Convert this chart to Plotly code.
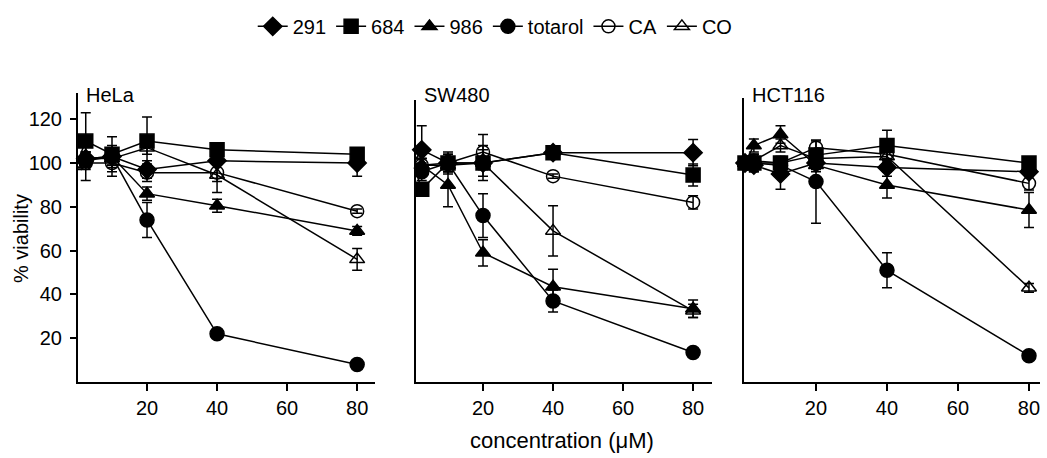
import plotly.graph_objects as go

# concentrations (uM)
conc = [0, 2.5, 10, 20, 40, 80]

series_names = ["291", "684", "986", "totarol", "CA", "CO"]
panels = ["HeLa", "SW480", "HCT116"]

# % viability
hela_291 = [100, 102, 103, 97, 101, 100]
hela_684 = [100, 110, 104, 110, 106, 104]
hela_986 = [100, 102, 103, 86, 80.5, 69]
hela_totarol = [100, 101, 103, 74, 22, 8]
hela_ca = [100, 100, 100, 95.6, 95.6, 78]
hela_co = [100, 102, 102, 107, 94.5, 56]

hela_291_err = [2, 3, 5, 4, 2, 6]
hela_684_err = [3, 13, 8, 11, 2, 2]
hela_986_err = [2, 3, 4, 3, 3, 2]
hela_totarol_err = [2, 3, 4, 8, 2, 1]
hela_ca_err = [2, 8, 6, 4, 4, 1]
hela_co_err = [2, 3, 3, 3, 8, 5]

sw480_291 = [100, 106, 100, 100, 104.7, 104.7]
sw480_684 = [100, 88, 100, 100, 104.7, 94.5]
sw480_986 = [100, 99, 90, 59, 43.5, 33.5]
sw480_totarol = [100, 96, 100, 76, 37, 13.5]
sw480_ca = [100, 99, 100, 105, 94, 82]
sw480_co = [100, 99, 99, 100, 69, 32.5]

sw480_291_err = [2, 11, 5, 6, 1, 6]
sw480_684_err = [2, 3, 4, 8, 1, 5]
sw480_986_err = [2, 3, 10, 6, 8, 4]
sw480_totarol_err = [2, 4, 4, 10, 5, 1]
sw480_ca_err = [2, 3, 3, 8, 1, 3]
sw480_co_err = [2, 3, 3, 3, 11.5, 3]

hct116_291 = [100, 99, 95, 100, 98, 96]
hct116_684 = [100, 100, 100, 103.6, 108, 100]
hct116_986 = [100, 108, 113, 99, 90, 78.5]
hct116_totarol = [100, 100, 99, 91.5, 51, 12]
hct116_ca = [100, 101, 100, 107, 104, 90.7]
hct116_co = [100, 101, 108, 102, 103, 43]

hct116_291_err = [2, 3, 7, 3, 4, 2]
hct116_684_err = [2, 4, 3, 3, 7, 2]
hct116_986_err = [2, 3, 4, 3, 6, 8]
hct116_totarol_err = [2, 3, 3, 19, 8, 1]
hct116_ca_err = [2, 3, 3, 3, 3, 3]
hct116_co_err = [2, 3, 3, 3, 3, 2]

x_ticks = [20, 40, 60, 80]
y_ticks = [20, 40, 60, 80, 100, 120]

data = {
    "HeLa": ([hela_291, hela_684, hela_986, hela_totarol, hela_ca, hela_co],
             [hela_291_err, hela_684_err, hela_986_err, hela_totarol_err, hela_ca_err, hela_co_err]),
    "SW480": ([sw480_291, sw480_684, sw480_986, sw480_totarol, sw480_ca, sw480_co],
              [sw480_291_err, sw480_684_err, sw480_986_err, sw480_totarol_err, sw480_ca_err, sw480_co_err]),
    "HCT116": ([hct116_291, hct116_684, hct116_986, hct116_totarol, hct116_ca, hct116_co],
               [hct116_291_err, hct116_684_err, hct116_986_err, hct116_totarol_err, hct116_ca_err, hct116_co_err]),
}

symbols = {"291": "diamond", "684": "square", "986": "triangle-up", "totarol": "circle",
           "CA": "circle-open", "CO": "triangle-up-open"}
sizes = {"291": 14, "684": 14, "986": 13, "totarol": 14, "CA": 13, "CO": 13}

W, H = 1047, 458
FONT = "Liberation Sans, Arial, Helvetica, sans-serif"

# pixel layout of each panel: (x-left, x-right, y-top) and x-range
panel_geom = {
    "HeLa": (78, 375, 93, [0.29, 85.1]),
    "SW480": (416, 712, 100, [0.86, 85.4]),
    "HCT116": (744, 1040, 98, [-0.28, 83.1]),
}
y_bottom_px = 382
px_per_unit = 2.19

fig = go.Figure()
draw_order = [5, 4, 3, 2, 0, 1]
for pi, panel in enumerate(panels):
    vals, errs = data[panel]
    ax = "" if pi == 0 else str(pi + 1)
    for si in draw_order:
        name = series_names[si]
        fig.add_trace(go.Scatter(
            x=conc, y=vals[si], name=name, mode="lines+markers",
            xaxis="x" + ax, yaxis="y" + ax,
            line=dict(color="black", width=1.5),
            marker=dict(symbol=symbols[name], size=sizes[name], color="black",
                        line=dict(color="black", width=1.5)),
            error_y=dict(type="data", array=errs[si], color="black", thickness=1.5, width=5),
            showlegend=(pi == 0), legendrank=si + 1, cliponaxis=False,
        ))

layout = dict(
    width=W, height=H, margin=dict(l=0, r=0, t=0, b=0),
    paper_bgcolor="white", plot_bgcolor="white",
    font=dict(family=FONT, size=20, color="black"),
    legend=dict(orientation="h", x=0.473, xanchor="center", y=0.985, yanchor="top",
                font=dict(size=20), traceorder="normal", itemwidth=30,
                bgcolor="rgba(0,0,0,0)"),
    annotations=[],
)
for pi, panel in enumerate(panels):
    xl, xr, yt, xr_range = panel_geom[panel]
    ax = "" if pi == 0 else str(pi + 1)
    y_dom = [(H - y_bottom_px) / H, (H - yt) / H]
    y_top_val = (y_bottom_px - yt) / px_per_unit
    layout["xaxis" + ax] = dict(
        domain=[xl / W, xr / W], range=xr_range, anchor="y" + ax,
        showline=True, linecolor="black", linewidth=2, showgrid=False, zeroline=False,
        tickmode="array", tickvals=x_ticks, ticks="outside", ticklen=7, tickwidth=2,
        tickcolor="black", tickfont=dict(size=20, family=FONT),
    )
    yax = dict(
        domain=y_dom, range=[0, y_top_val], anchor="x" + ax,
        showline=True, linecolor="black", linewidth=2, showgrid=False, zeroline=False,
    )
    if pi == 0:
        yax.update(tickmode="array", tickvals=y_ticks, ticks="outside", ticklen=6,
                   tickwidth=2, tickcolor="black", tickfont=dict(size=20, family=FONT),
                   ticklabelstandoff=4)
    else:
        yax.update(showticklabels=False, ticks="")
    layout["yaxis" + ax] = yax
    layout["annotations"].append(dict(
        text=panel, x=(xl + 6) / W, y=(H - 95) / H, xref="paper", yref="paper",
        xanchor="left", yanchor="middle", showarrow=False, font=dict(size=20, family=FONT)))

layout["annotations"].append(dict(
    text="% viability", x=21 / W, y=(H - 239) / H, xref="paper", yref="paper",
    textangle=-90, showarrow=False, xanchor="center", yanchor="middle",
    font=dict(size=20, family=FONT)))
layout["annotations"].append(dict(
    text="concentration (\u03bcM)", x=562 / W, y=(H - 440) / H, xref="paper", yref="paper",
    showarrow=False, xanchor="center", yanchor="middle", font=dict(size=22, family=FONT)))

fig.update_layout(**layout)
fig.write_html("out.html", config={"displayModeBar": False},
               post_script="document.body.style.margin='0';document.body.style.padding='0';")
